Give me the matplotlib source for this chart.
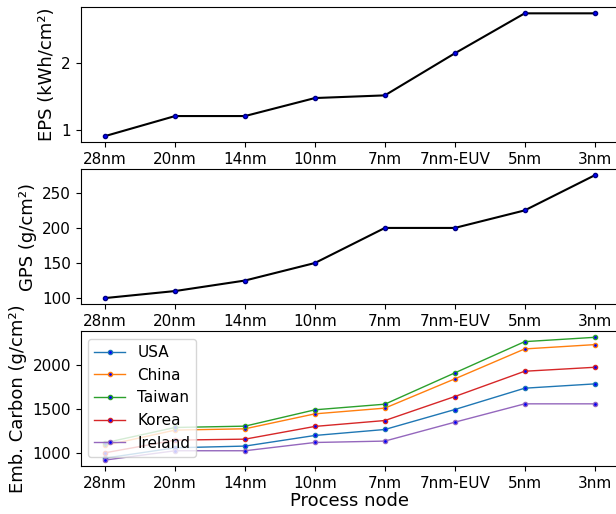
import matplotlib
matplotlib.use('Agg')
import matplotlib.pyplot as plt

nodes = ['28nm', '20nm', '14nm', '10nm', '7nm', '7nm-EUV', '5nm', '3nm']
eps = [0.91, 1.21, 1.21, 1.48, 1.52, 2.15, 2.75, 2.75]
gps = [100, 110, 125, 150, 200, 200, 225, 275]

countries = ['USA', 'China', 'Taiwan', 'Korea', 'Ireland']
colors = ['tab:blue', 'tab:orange', 'tab:green', 'tab:red', 'tab:purple']
carbon_usa = [939, 1057, 1076, 1197, 1265, 1492, 1735, 1784]
carbon_china = [1083, 1258, 1273, 1443, 1508, 1841, 2182, 2231]
carbon_taiwan = [1114, 1288, 1303, 1489, 1553, 1909, 2265, 2314]
carbon_korea = [1000, 1144, 1155, 1300, 1367, 1640, 1928, 1973]
carbon_ireland = [917, 1023, 1023, 1117, 1133, 1348, 1557, 1557]
carbon = [carbon_usa, carbon_china, carbon_taiwan, carbon_korea, carbon_ireland]

fs = 11
fig, axs = plt.subplots(3, 1, figsize=(6.16, 5.14), dpi=100)
fig.subplots_adjust(left=0.131, right=1.005, top=0.986, bottom=0.093, hspace=0.2)

x = list(range(len(nodes)))

axs[0].plot(x, eps, color='black', lw=1.5, marker='o', markersize=3,
            mfc='blue', mec='navy')
axs[0].set_ylabel('EPS (kWh/cm²)', fontsize=13)
axs[0].set_yticks([1, 2])

axs[1].plot(x, gps, color='black', lw=1.5, marker='o', markersize=3,
            mfc='blue', mec='navy')
axs[1].set_ylabel('GPS (g/cm²)', fontsize=13)
axs[1].set_yticks([100, 150, 200, 250])

for name, vals, c in zip(countries, carbon, colors):
    axs[2].plot(x, vals, color=c, lw=1, marker='o', markersize=3,
                mfc='blue', mec=c, label=name)
axs[2].set_ylabel('Emb. Carbon (g/cm²)', fontsize=13)
axs[2].set_xlabel('Process node', fontsize=13, labelpad=1)
axs[2].set_yticks([1000, 1500, 2000])
axs[2].legend(loc='upper left', fontsize=fs)

for ax in axs:
    ax.set_xticks(x)
    ax.set_xticklabels(nodes)
    ax.tick_params(labelsize=fs)

fig.savefig('out.png', dpi=100)
